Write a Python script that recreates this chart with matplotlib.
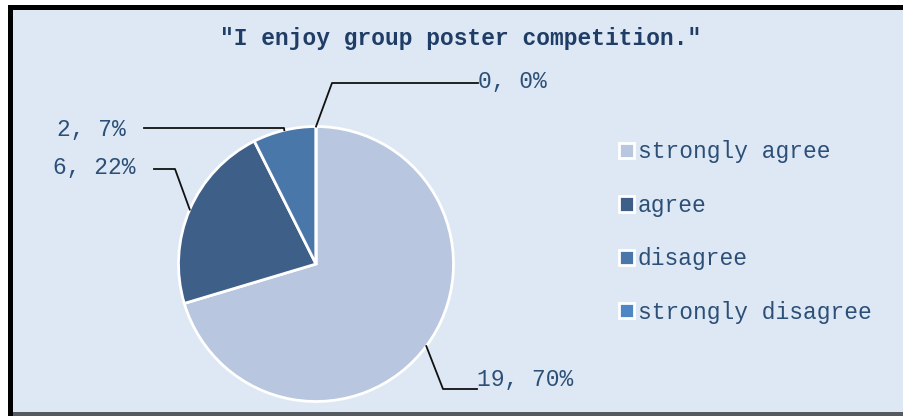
import numpy as np
import matplotlib
matplotlib.use("Agg")
import matplotlib.pyplot as plt
from matplotlib.patches import Rectangle

# data
categories = ["strongly agree", "agree", "disagree", "strongly disagree"]
counts = [19, 6, 2, 0]
colors = ["#b8c6df", "#3d5f88", "#4a77aa", "#4f87c6"]
title = "\"I enjoy group poster competition.\""

# layout (pixel coords, y from top) for the data labels
label_pos = [(477, 379, "left"), (136, 168, "right"), (126, 130, "right"), (478, 82, "left")]
elbows = [(443, 389), (175, 169), (284, 128), (332, 83)]

W, H = 904, 416
bg = "#dde8f4"
txt_col = "#2c4f77"
mono = ["Liberation Mono", "DejaVu Sans Mono"]

fig = plt.figure(figsize=(W / 100, H / 100), dpi=100, facecolor="white")
ax = fig.add_axes([0, 0, 1, 1])
ax.set_facecolor("white")

# chart area background and frame
ax.add_patch(Rectangle((13, 0), W - 13, H - 10, facecolor=bg, edgecolor="none", zorder=0))
ax.add_patch(Rectangle((8, H - 10), W - 8, 5, facecolor="black", edgecolor="none", zorder=0))
ax.add_patch(Rectangle((8, 0), 5, H - 5, facecolor="black", edgecolor="none", zorder=0))
ax.add_patch(Rectangle((13, 0), W - 13, 4, facecolor="#555a60", edgecolor="none", zorder=0))

cx, cy, r = 316, H - 264, 137.5
wedges, _ = ax.pie(counts, colors=colors, startangle=90, counterclock=False,
                   center=(cx, cy), radius=r,
                   wedgeprops=dict(edgecolor="white", linewidth=2))
ax.set_xlim(0, W)
ax.set_ylim(0, H)
ax.set_aspect("equal")
ax.axis("off")

total = sum(counts)
for w, n, (lx, ly, side), (ex, ey) in zip(wedges, counts, label_pos, elbows):
    mid = np.deg2rad((w.theta1 + w.theta2) / 2)
    sx, sy = cx + r * np.cos(mid), cy + r * np.sin(mid)
    ax.plot([sx, ex, lx if side == "left" else lx + 18], [sy, H - ey, H - ey],
            color="#111111", lw=1.3, zorder=3)
    ax.text(lx, H - ly, "%d, %d%%" % (n, round(100 * n / total)),
            ha=side, va="center", color=txt_col, fontsize=16.5, family=mono)

ax.text(461, H - 38, title, ha="center", va="center", color="#1f3d66",
        fontsize=16.5, fontweight="bold", family=mono)

leg = ax.legend(wedges, categories, loc="upper left", bbox_to_anchor=(608 / W, 1 - 129 / H),
                frameon=False, handlelength=0.65, handleheight=0.65, handletextpad=0.15,
                labelspacing=1.33, borderpad=0, prop=dict(family=mono, size=16.5))
for t in leg.get_texts():
    t.set_color(txt_col)

fig.savefig("out.png", dpi=100, facecolor="white")
